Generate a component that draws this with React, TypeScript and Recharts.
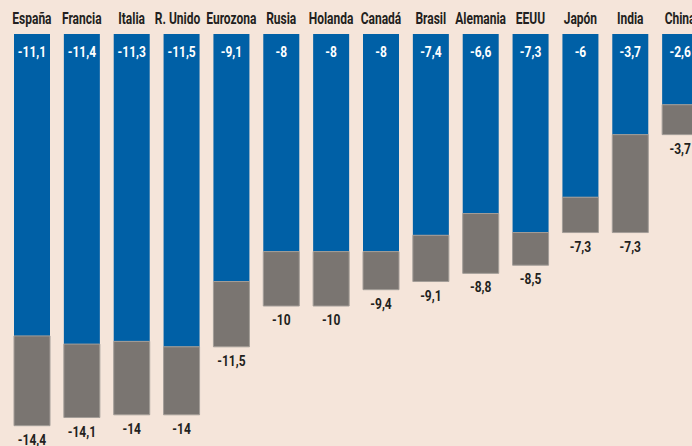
import React from "react";
import { BarChart, Bar, XAxis, YAxis, LabelList } from "recharts";

const countries = ["España", "Francia", "Italia", "R. Unido", "Eurozona", "Rusia", "Holanda", "Canadá", "Brasil", "Alemania", "EEUU", "Japón", "India", "China"];
const firstValues = [-11.1, -11.4, -11.3, -11.5, -9.1, -8, -8, -8, -7.4, -6.6, -7.3, -6, -3.7, -2.6];
const secondValues = [-14.4, -14.1, -14, -14, -11.5, -10, -10, -9.4, -9.1, -8.8, -8.5, -7.3, -7.3, -3.7];
const yDomain = [-15, 0];

const data = countries.map((name, i) => ({
  name,
  first: firstValues[i],
  extra: Math.round((secondValues[i] - firstValues[i]) * 10) / 10,
  total: secondValues[i],
}));

const BLUE = "#0060a6";
const GREY = "#7a7571";
const BG = "#f5e5da";
const TEXT = "#231f20";
const FONT = "Roboto, 'DejaVu Sans', sans-serif";

const fmt = (v: number) => String(v).replace(".", ",");

const Narrow = ({ x, y, fill, size, sx, children }: any) => (
  <g transform={`translate(${x},${y}) scale(${sx},1)`}>
    <text x={0} y={0} textAnchor="middle" fill={fill} fontFamily={FONT} fontWeight="bold" fontSize={size}>
      {children}
    </text>
  </g>
);

const NameTick = (props: any) => {
  const { x, payload } = props;
  const nudge = payload.value === "R. Unido" ? -4 : 0;
  return (
    <Narrow x={x + nudge} y={24} fill={TEXT} size={16} sx={0.75}>
      {payload.value}
    </Narrow>
  );
};

const BlueLabel = (props: any) => {
  const { x, y, width, height, value } = props;
  const top = Math.min(y, y + height);
  return (
    <Narrow x={x + width / 2} y={top + 23} fill="#ffffff" size={15} sx={0.8}>
      {fmt(value)}
    </Narrow>
  );
};

const GreyLabel = (props: any) => {
  const { x, y, width, height, value } = props;
  const bottom = Math.max(y, y + height);
  return (
    <Narrow x={x + width / 2} y={bottom + 19} fill={TEXT} size={15} sx={0.8}>
      {fmt(value)}
    </Narrow>
  );
};

export default function App() {
  return (
    <div style={{ position: "fixed", left: 0, top: 0, width: 692, height: 446, overflow: "hidden", background: BG }}>
      <BarChart
        width={710}
        height={446}
        data={data}
        margin={{ top: 4, right: 5, bottom: 4, left: 7 }}
        barSize={36}
        barCategoryGap={0}
        stackOffset="sign"
      >
        <XAxis dataKey="name" orientation="top" height={30} axisLine={false} tickLine={false} tick={<NameTick />} interval={0} />
        <YAxis hide domain={yDomain} type="number" allowDataOverflow />
        <Bar dataKey="first" stackId="a" fill={BLUE} isAnimationActive={false}>
          <LabelList dataKey="first" content={<BlueLabel />} />
        </Bar>
        <Bar dataKey="extra" stackId="a" fill={GREY} stroke="#a39d98" strokeWidth={1} isAnimationActive={false}>
          <LabelList dataKey="total" content={<GreyLabel />} />
        </Bar>
      </BarChart>
    </div>
  );
}
